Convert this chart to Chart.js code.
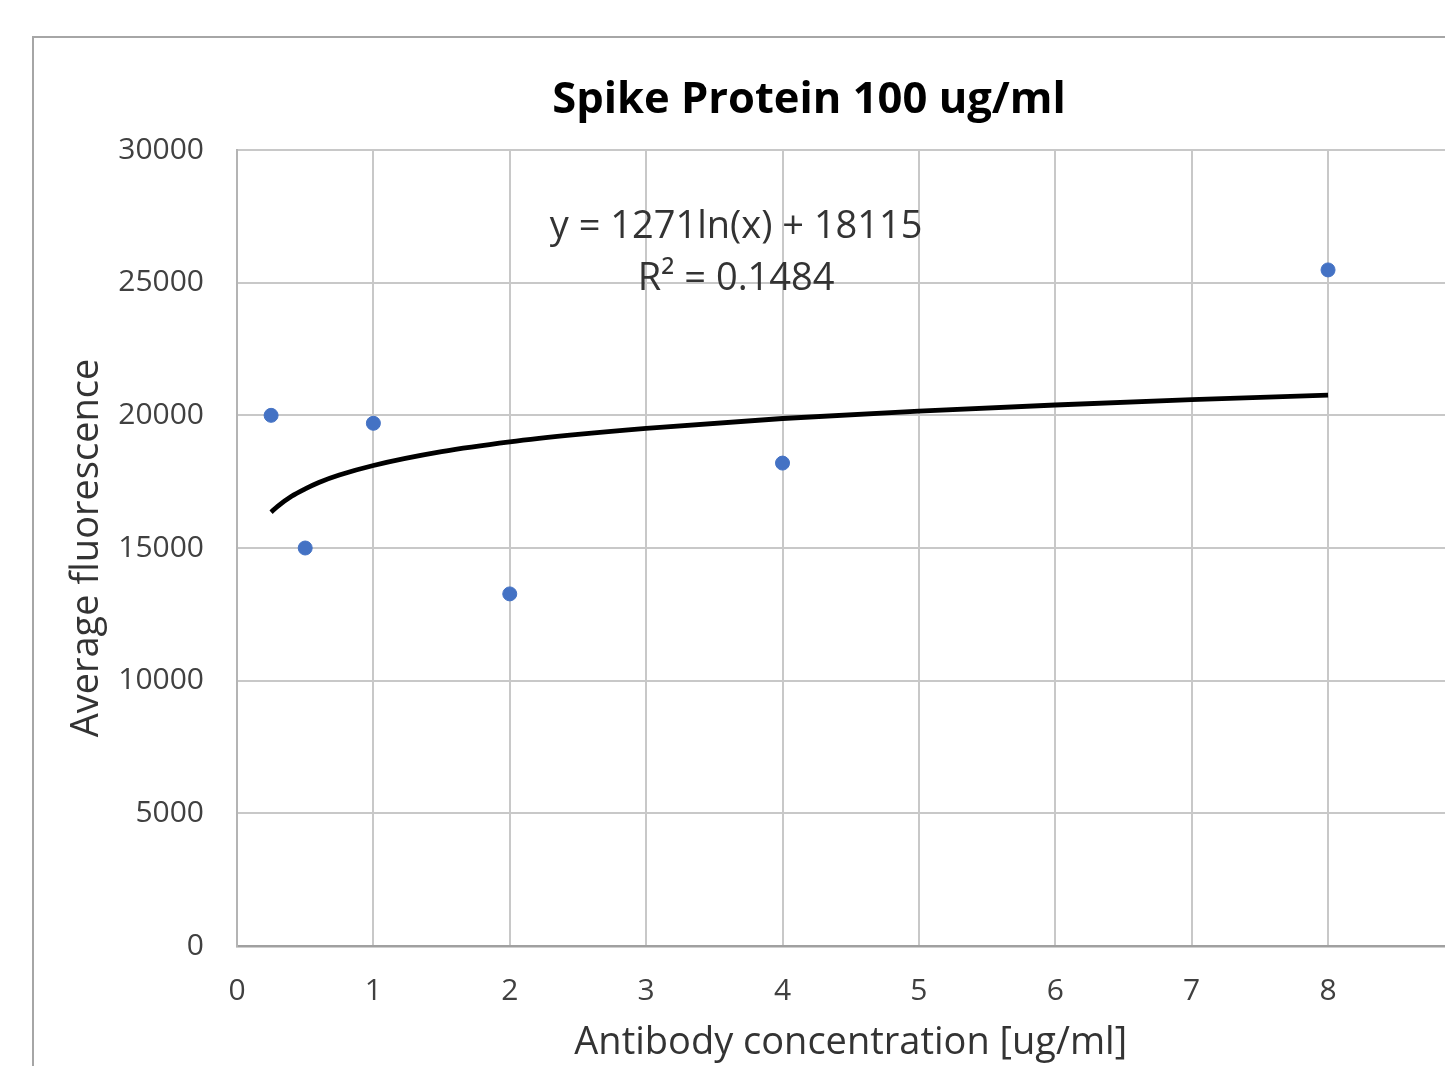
<!DOCTYPE html>
<html>
<head>
<meta charset="utf-8">
<script src="https://cdn.jsdelivr.net/npm/chart.js@4/dist/chart.umd.min.js"></script>
<style>
  html, body { margin: 0; padding: 0; background: #fff; overflow: hidden; width: 1445px; height: 1066px; }
  #frame { position: absolute; left: 32px; top: 36px; width: 2000px; height: 2000px; border: 2px solid #a6a6a6; }
  #chart { position: absolute; left: 0; top: 0; }
</style>
</head>
<body>
<div id="frame"></div>
<canvas id="chart" width="1500" height="1100"></canvas>
<script>
// measured points
const concX = [0.25, 0.5, 1, 2, 4, 8];
const fluorY = [20000, 15000, 19700, 13270, 18200, 25480];

// log trendline, values
const trendX = [0.25, 0.3, 0.4, 0.5, 0.6, 0.75, 1, 1.5, 2, 2.5, 3, 4, 5, 6, 7, 8];
const trendY = [16350, 16580, 16950, 17230, 17470, 17750, 18110, 18630, 19000, 19280, 19510, 19880, 20160, 20390, 20590, 20760];

const eqLines = ['y = 1271ln(x) + 18115', 'R² = 0.1484'];
const eqAtX = 3.66;
const eqAtY = [27080, 25120];

const yTicks = [0, 5000, 10000, 15000, 20000, 25000, 30000];

const chartTitle = 'Spike Protein 100 ug/ml';

const FONT = '"Open Sans", "DejaVu Sans", sans-serif';

// the chart frame runs off the right edge, so the title is centred on the whole frame, not the canvas
const titlePos = { x: 809, y: 101 };

const textBits = {
  id: 'textBits',
  afterDatasetsDraw(chart) {
    const ctx = chart.ctx;
    const xs = chart.scales.x, ys = chart.scales.y;
    ctx.save();
    ctx.textAlign = 'center';
    ctx.textBaseline = 'middle';

    ctx.font = 'bold 43.5px ' + FONT;
    ctx.fillStyle = '#000';
    ctx.fillText(chartTitle, titlePos.x, titlePos.y);

    ctx.font = '38px ' + FONT;
    ctx.fillStyle = '#333';
    eqLines.forEach(function (t, i) {
      ctx.fillText(t, xs.getPixelForValue(eqAtX), ys.getPixelForValue(eqAtY[i]));
    });
    ctx.restore();
  }
};

const ctx = document.getElementById('chart').getContext('2d');
new Chart(ctx, {
  type: 'scatter',
  data: {
    datasets: [
      {
        label: 'Trend',
        type: 'line',
        data: trendX.map((x, i) => ({ x: x, y: trendY[i] })),
        borderColor: '#000',
        borderWidth: 4.8,
        pointRadius: 0,
        fill: false,
        cubicInterpolationMode: 'monotone',
        order: 2
      },
      {
        label: 'Average fluorescence',
        data: concX.map((x, i) => ({ x: x, y: fluorY[i] })),
        backgroundColor: '#4472c4',
        borderColor: '#4472c4',
        pointRadius: 7,
        order: 1
      }
    ]
  },
  options: {
    responsive: false,
    animation: false,
    devicePixelRatio: 1,
    layout: { padding: { left: 60, right: 34.5, top: 150, bottom: 0 } },
    plugins: {
      legend: { display: false },
      tooltip: { enabled: false },
      title: { display: false }
    },
    scales: {
      x: {
        type: 'linear',
        min: 0,
        max: 9,
        ticks: { stepSize: 1, padding: 27, color: '#404040', font: { family: FONT, size: 30 } },
        grid: { color: '#c8c8c8', lineWidth: 2, drawTicks: false },
        border: { color: '#a0a0a0', width: 2.5 },
        title: {
          display: true,
          text: 'Antibody concentration [ug/ml]',
          color: '#333',
          font: { family: FONT, size: 38, lineHeight: 1.2 },
          padding: { top: 0, bottom: 34.2 }
        },
        afterFit(scale) { scale.height = 154; }
      },
      y: {
        min: 0,
        max: 30000,
        afterBuildTicks(scale) { scale.ticks = yTicks.map(v => ({ value: v })); },
        ticks: { padding: 33, color: '#404040', font: { family: FONT, size: 30 }, callback: v => String(v) },
        grid: { color: '#c8c8c8', lineWidth: 2, drawTicks: false },
        border: { color: '#b4b4b4', width: 2 },
        title: {
          display: true,
          text: 'Average fluorescence',
          color: '#333',
          font: { family: FONT, size: 38, lineHeight: 1.2 },
          padding: { top: 4, bottom: 0 }
        },
        afterFit(scale) { scale.width = 177; }
      }
    }
  },
  plugins: [textBits]
});
</script>
</body>
</html>
